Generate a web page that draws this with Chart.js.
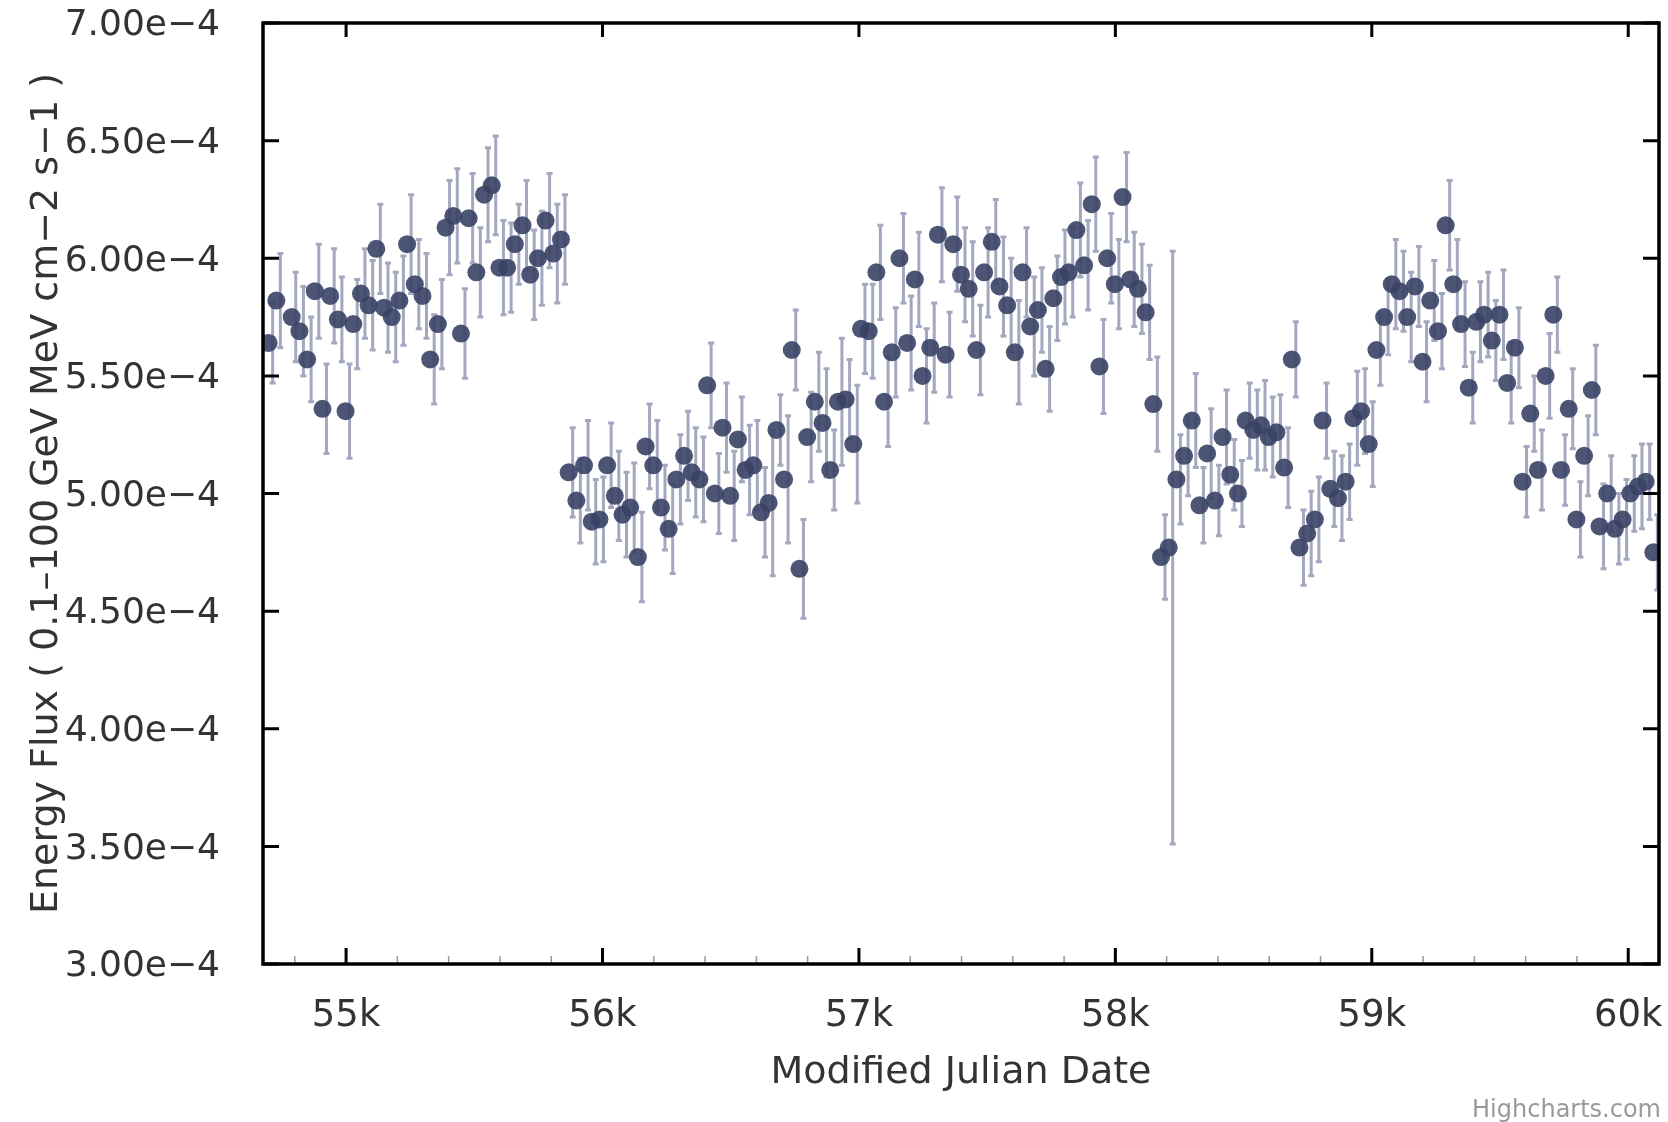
<!DOCTYPE html>
<html>
<head>
<meta charset="utf-8">
<title>Energy Flux light curve</title>
<script src="https://cdn.jsdelivr.net/npm/chart.js@4.4.1/dist/chart.umd.min.js"></script>
<style>
  html, body { margin: 0; padding: 0; background: #fff; }
  #lc { display: block; }
</style>
</head>
<body>
<canvas id="lc" width="1668" height="1122"></canvas>
<script>
// Monthly bins (MJD bin centres). The bin near 54758 has no point.
const mjd = [
  54698, 54728, 54788, 54818, 54848, 54878, 54908, 54938, 54968, 54998,
  55028, 55058, 55088, 55118, 55148, 55178, 55208, 55238, 55268, 55298,
  55328, 55358, 55388, 55418, 55448, 55478, 55508, 55538, 55568, 55598,
  55628, 55658, 55688, 55718, 55748, 55778, 55808, 55838, 55868, 55898,
  55928, 55958, 55988, 56018, 56048, 56078, 56108, 56138, 56168, 56198,
  56228, 56258, 56288, 56318, 56348, 56378, 56408, 56438, 56468, 56498,
  56528, 56558, 56588, 56618, 56648, 56678, 56708, 56738, 56768, 56798,
  56828, 56858, 56888, 56918, 56948, 56978, 57008, 57038, 57068, 57098,
  57128, 57158, 57188, 57218, 57248, 57278, 57308, 57338, 57368, 57398,
  57428, 57458, 57488, 57518, 57548, 57578, 57608, 57638, 57668, 57698,
  57728, 57758, 57788, 57818, 57848, 57878, 57908, 57938, 57968, 57998,
  58028, 58058, 58088, 58118, 58148, 58178, 58208, 58238, 58268, 58298,
  58328, 58358, 58388, 58418, 58448, 58478, 58508, 58538, 58568, 58598,
  58628, 58658, 58688, 58718, 58748, 58778, 58808, 58838, 58868, 58898,
  58928, 58958, 58988, 59018, 59048, 59078, 59108, 59138, 59168, 59198,
  59228, 59258, 59288, 59318, 59348, 59378, 59408, 59438, 59468, 59498,
  59528, 59558, 59588, 59618, 59648, 59678, 59708, 59738, 59768, 59798,
  59828, 59858, 59888, 59918, 59948, 59978, 60008, 60038, 60068, 60098
];

// Energy flux, in units of 1e-4 MeV cm-2 s-1
const flux = [
  5.64, 5.82, 5.75, 5.69, 5.57, 5.86, 5.36, 5.84, 5.74, 5.35,
  5.72, 5.85, 5.80, 6.04, 5.79, 5.75, 5.82, 6.06, 5.89, 5.84,
  5.57, 5.72, 6.13, 6.18, 5.68, 6.17, 5.94, 6.27, 6.31, 5.96,
  5.96, 6.06, 6.14, 5.93, 6.00, 6.16, 6.02, 6.08, 5.09, 4.97,
  5.12, 4.88, 4.89, 5.12, 4.99, 4.91, 4.94, 4.73, 5.20, 5.12,
  4.94, 4.85, 5.06, 5.16, 5.09, 5.06, 5.46, 5.00, 5.28, 4.99,
  5.23, 5.10, 5.12, 4.92, 4.96, 5.27, 5.06, 5.61, 4.68, 5.24,
  5.39, 5.30, 5.10, 5.39, 5.40, 5.21, 5.70, 5.69, 5.94, 5.39,
  5.60, 6.00, 5.64, 5.91, 5.50, 5.62, 6.10, 5.59, 6.06, 5.93,
  5.87, 5.61, 5.94, 6.07, 5.88, 5.80, 5.60, 5.94, 5.71, 5.78,
  5.53, 5.83, 5.92, 5.94, 6.12, 5.97, 6.23, 5.54, 6.00, 5.89,
  6.26, 5.91, 5.87, 5.77, 5.38, 4.73, 4.77, 5.06, 5.16, 5.31,
  4.95, 5.17, 4.97, 5.24, 5.08, 5.00, 5.31, 5.27, 5.29, 5.24,
  5.26, 5.11, 5.57, 4.77, 4.83, 4.89, 5.31, 5.02, 4.98, 5.05,
  5.32, 5.35, 5.21, 5.61, 5.75, 5.89, 5.86, 5.75, 5.88, 5.56,
  5.82, 5.69, 6.14, 5.89, 5.72, 5.45, 5.73, 5.76, 5.65, 5.76,
  5.47, 5.62, 5.05, 5.34, 5.10, 5.50, 5.76, 5.10, 5.36, 4.89,
  5.16, 5.44, 4.86, 5.00, 4.85, 4.89, 5.00, 5.03, 5.05, 4.75
];

// Half length of each error bar, same units
const fluxErr = [
  0.17, 0.20, 0.19, 0.19, 0.18, 0.20, 0.19, 0.20, 0.18, 0.20,
  0.19, 0.19, 0.19, 0.19, 0.19, 0.19, 0.19, 0.21, 0.19, 0.18,
  0.19, 0.19, 0.20, 0.20, 0.19, 0.19, 0.19, 0.20, 0.21, 0.20,
  0.19, 0.17, 0.19, 0.19, 0.20, 0.20, 0.21, 0.19, 0.19, 0.18,
  0.19, 0.18, 0.18, 0.18, 0.19, 0.18, 0.19, 0.19, 0.18, 0.19,
  0.18, 0.19, 0.19, 0.19, 0.19, 0.18, 0.18, 0.17, 0.19, 0.19,
  0.18, 0.19, 0.19, 0.19, 0.31, 0.15, 0.27, 0.17, 0.21, 0.19,
  0.21, 0.23, 0.17, 0.27, 0.17, 0.25, 0.19, 0.20, 0.20, 0.19,
  0.19, 0.19, 0.20, 0.20, 0.20, 0.19, 0.20, 0.18, 0.20, 0.20,
  0.20, 0.19, 0.19, 0.18, 0.21, 0.20, 0.22, 0.19, 0.21, 0.18,
  0.18, 0.18, 0.20, 0.19, 0.20, 0.19, 0.20, 0.20, 0.19, 0.19,
  0.19, 0.20, 0.19, 0.20, 0.20, 0.18, 1.26, 0.19, 0.17, 0.20,
  0.16, 0.19, 0.15, 0.20, 0.15, 0.14, 0.16, 0.17, 0.19, 0.17,
  0.16, 0.17, 0.16, 0.16, 0.18, 0.18, 0.16, 0.16, 0.18, 0.16,
  0.20, 0.18, 0.18, 0.15, 0.16, 0.19, 0.17, 0.19, 0.17, 0.17,
  0.17, 0.16, 0.19, 0.19, 0.18, 0.15, 0.17, 0.18, 0.17, 0.19,
  0.17, 0.17, 0.15, 0.16, 0.17, 0.18, 0.16, 0.15, 0.17, 0.16,
  0.17, 0.19, 0.18, 0.16, 0.15, 0.17, 0.16, 0.18, 0.16, 0.16
];
const FLUX_UNIT = 1e-4;

// Axis ticks
const xTicks = [55000, 56000, 57000, 58000, 59000, 60000];
const xTickLabels = ['55k', '56k', '57k', '58k', '59k', '60k'];
const xMinorTicks = [54800, 55200, 55400, 55600, 55800, 56200, 56400, 56600, 56800,
  57200, 57400, 57600, 57800, 58200, 58400, 58600, 58800, 59200, 59400, 59600, 59800];
const yTicks = [3.0e-4, 3.5e-4, 4.0e-4, 4.5e-4, 5.0e-4, 5.5e-4, 6.0e-4, 6.5e-4, 7.0e-4];
const yTickLabels = ['3.00e\u22124', '3.50e\u22124', '4.00e\u22124', '4.50e\u22124', '5.00e\u22124',
  '5.50e\u22124', '6.00e\u22124', '6.50e\u22124', '7.00e\u22124'];

const FONT = '"DejaVu Sans", "Noto Sans", sans-serif';
const TEXT = '#333333';

Chart.defaults.font.family = FONT;

// Error bars drawn under the markers (slightly offset to the right like the original)
const errorBars = {
  id: 'errorBars',
  beforeDatasetsDraw(chart) {
    const { ctx, chartArea: a, scales: { x, y } } = chart;
    ctx.save();
    ctx.beginPath();
    ctx.rect(a.left, a.top, a.width, a.height);
    ctx.clip();
    ctx.strokeStyle = 'rgba(128, 134, 166, 0.72)';
    ctx.lineWidth = 3;
    mjd.forEach((t, i) => {
      const px = x.getPixelForValue(t) + 4;
      const lo = y.getPixelForValue((flux[i] - fluxErr[i]) * FLUX_UNIT);
      const hi = y.getPixelForValue((flux[i] + fluxErr[i]) * FLUX_UNIT);
      ctx.beginPath();
      ctx.moveTo(px, lo);
      ctx.lineTo(px, hi);
      ctx.moveTo(px - 3, lo);
      ctx.lineTo(px + 3, lo);
      ctx.moveTo(px - 3, hi);
      ctx.lineTo(px + 3, hi);
      ctx.stroke();
    });
    ctx.restore();
  }
};

// Plot frame, inward ticks and the credit line
const frame = {
  id: 'frame',
  afterDraw(chart) {
    const { ctx, chartArea: a, scales: { x, y } } = chart;
    ctx.save();

    ctx.strokeStyle = '#999999';
    ctx.lineWidth = 1.5;
    xMinorTicks.forEach(v => {
      const px = x.getPixelForValue(v);
      ctx.beginPath();
      ctx.moveTo(px, a.bottom);
      ctx.lineTo(px, a.bottom - 8);
      ctx.stroke();
    });

    ctx.strokeStyle = '#000000';
    ctx.lineWidth = 3;
    xTicks.forEach(v => {
      const px = x.getPixelForValue(v);
      ctx.beginPath();
      ctx.moveTo(px, a.bottom);
      ctx.lineTo(px, a.bottom - 16);
      ctx.moveTo(px, a.top);
      ctx.lineTo(px, a.top + 14);
      ctx.stroke();
    });
    yTicks.forEach(v => {
      const py = y.getPixelForValue(v);
      ctx.beginPath();
      ctx.moveTo(a.left, py);
      ctx.lineTo(a.left + 16, py);
      ctx.moveTo(a.right, py);
      ctx.lineTo(a.right - 16, py);
      ctx.stroke();
    });

    ctx.lineWidth = 3.5;
    ctx.strokeRect(a.left, a.top, a.width, a.height);

    ctx.fillStyle = '#999999';
    ctx.font = '24px ' + FONT;
    ctx.textAlign = 'right';
    ctx.textBaseline = 'alphabetic';
    ctx.fillText('Highcharts.com', 1661, 1117);
    ctx.restore();
  }
};

const points = mjd.map((t, i) => ({ x: t, y: flux[i] * FLUX_UNIT }));

new Chart(document.getElementById('lc'), {
  type: 'scatter',
  data: {
    datasets: [{
      label: 'Energy Flux',
      data: points,
      pointRadius: 9,
      pointHoverRadius: 9,
      pointBackgroundColor: 'rgba(58, 67, 102, 0.9)',
      pointBorderWidth: 0
    }]
  },
  options: {
    responsive: false,
    animation: false,
    devicePixelRatio: 1,
    layout: { padding: { top: 23, right: 5, left: 0, bottom: 0 } },
    plugins: {
      legend: { display: false },
      tooltip: { enabled: false }
    },
    scales: {
      x: {
        type: 'linear',
        min: 54676,
        max: 60120,
        afterBuildTicks: s => { s.ticks = xTicks.map(v => ({ value: v })); },
        afterFit: s => {
          s.height = 158;
          s.paddingLeft = 0;
          s.paddingRight = 0;
        },
        grid: { display: false, drawTicks: false },
        border: { display: false },
        ticks: {
          callback: (v, i) => xTickLabels[i],
          color: TEXT,
          font: { size: 37 },
          padding: 30,
          maxRotation: 0,
          autoSkip: false
        },
        title: {
          display: true,
          text: 'Modified Julian Date',
          color: TEXT,
          font: { size: 38 },
          padding: { top: 0, bottom: 26 }
        }
      },
      y: {
        type: 'linear',
        min: 3e-4,
        max: 7e-4,
        afterBuildTicks: s => { s.ticks = yTicks.map(v => ({ value: v })); },
        afterFit: s => {
          s.width = 263;
          s.paddingTop = 0;
          s.paddingBottom = 0;
        },
        grid: { display: false, drawTicks: false },
        border: { display: false },
        ticks: {
          callback: (v, i) => yTickLabels[i],
          color: TEXT,
          font: { size: 36 },
          padding: 43,
          labelOffset: 3,
          autoSkip: false
        },
        title: {
          display: true,
          text: 'Energy Flux ( 0.1\u2013100 GeV MeV cm\u22122 s\u22121 )',
          color: TEXT,
          font: { size: 38 },
          padding: { top: 24, bottom: 0 }
        }
      }
    }
  },
  plugins: [errorBars, frame]
});
</script>
</body>
</html>
